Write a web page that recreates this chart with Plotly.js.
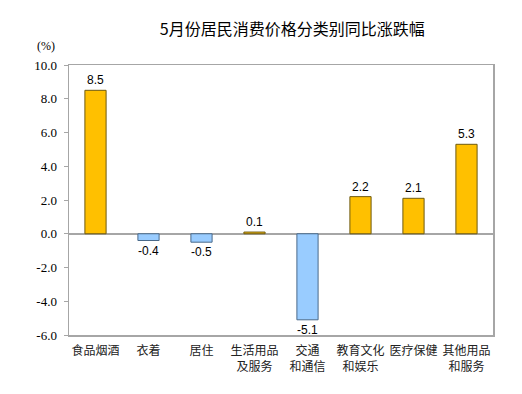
<!DOCTYPE html>
<html><head><meta charset="utf-8">
<script src="https://cdn.plot.ly/plotly-3.0.1.min.js"></script>
<style>body{margin:0;background:#fff}#c{width:522px;height:394px}</style>
</head><body><div id="c"></div>
<script>
const categories = ["食品烟酒","衣着","居住","生活用品<br>及服务","交通<br>和通信","教育文化<br>和娱乐","医疗保健","其他用品<br>和服务"];
const values = [8.5,-0.4,-0.5,0.1,-5.1,2.2,2.1,5.3];
const tickVals = [-6,-4,-2,0,2,4,6,8,10];
const tickText = ["-6.0","-4.0","-2.0","0.0","2.0","4.0","6.0","8.0","10.0"];

const fill = values.map(v => v >= 0 ? "#FFC000" : "#99CCFF");
const edge = values.map(v => v >= 0 ? "#6E5A10" : "#4A6A8A");

Plotly.newPlot("c", [{
  type: "bar",
  x: categories,
  y: values,
  width: 0.4,
  marker: {color: fill, line: {color: edge, width: 1}},
  text: values.map(v => v.toFixed(1)),
  textposition: "outside",
  cliponaxis: false,
  textfont: {family: "Liberation Sans", size: 12, color: "#000"},
  hoverinfo: "none"
}], {
  width: 522, height: 394,
  margin: {l: 69, r: 29, t: 65, b: 59},
  paper_bgcolor: "#fff", plot_bgcolor: "#fff",
  showlegend: false,
  title: {text: "5月份居民消费价格分类别同比涨跌幅", x: 0.56, xanchor: "center", y: 0.925, yanchor: "middle",
          font: {family: "Noto Sans CJK SC", size: 16, color: "#000"}},
  xaxis: {
    tickfont: {family: "Noto Sans CJK SC", size: 12, color: "#222"},
    ticklabelstandoff: 4,
    showline: true, linecolor: "#A6A6A6", linewidth: 1.5, mirror: true,
    ticks: "", showgrid: false, zeroline: false, fixedrange: true
  },
  yaxis: {
    range: [-6, 10], tickvals: tickVals, ticktext: tickText,
    tickfont: {family: "'Liberation Serif', 'Times New Roman', serif", size: 13, color: "#000"},
    ticks: "outside", ticklen: 4, tickcolor: "#A6A6A6", ticklabelstandoff: 4,
    showline: true, linecolor: "#A6A6A6", linewidth: 1.5, mirror: true,
    showgrid: false, zeroline: true, zerolinecolor: "#A6A6A6", zerolinewidth: 1.5,
    fixedrange: true
  },
  annotations: [{
    text: "(%)", xref: "paper", yref: "paper", x: -0.055, y: 1.07, xanchor: "center", yanchor: "middle",
    showarrow: false, font: {family: "'Liberation Serif', 'Times New Roman', serif", size: 12, color: "#000"}
  }]
}, {displayModeBar: false, staticPlot: true});
</script></body></html>
